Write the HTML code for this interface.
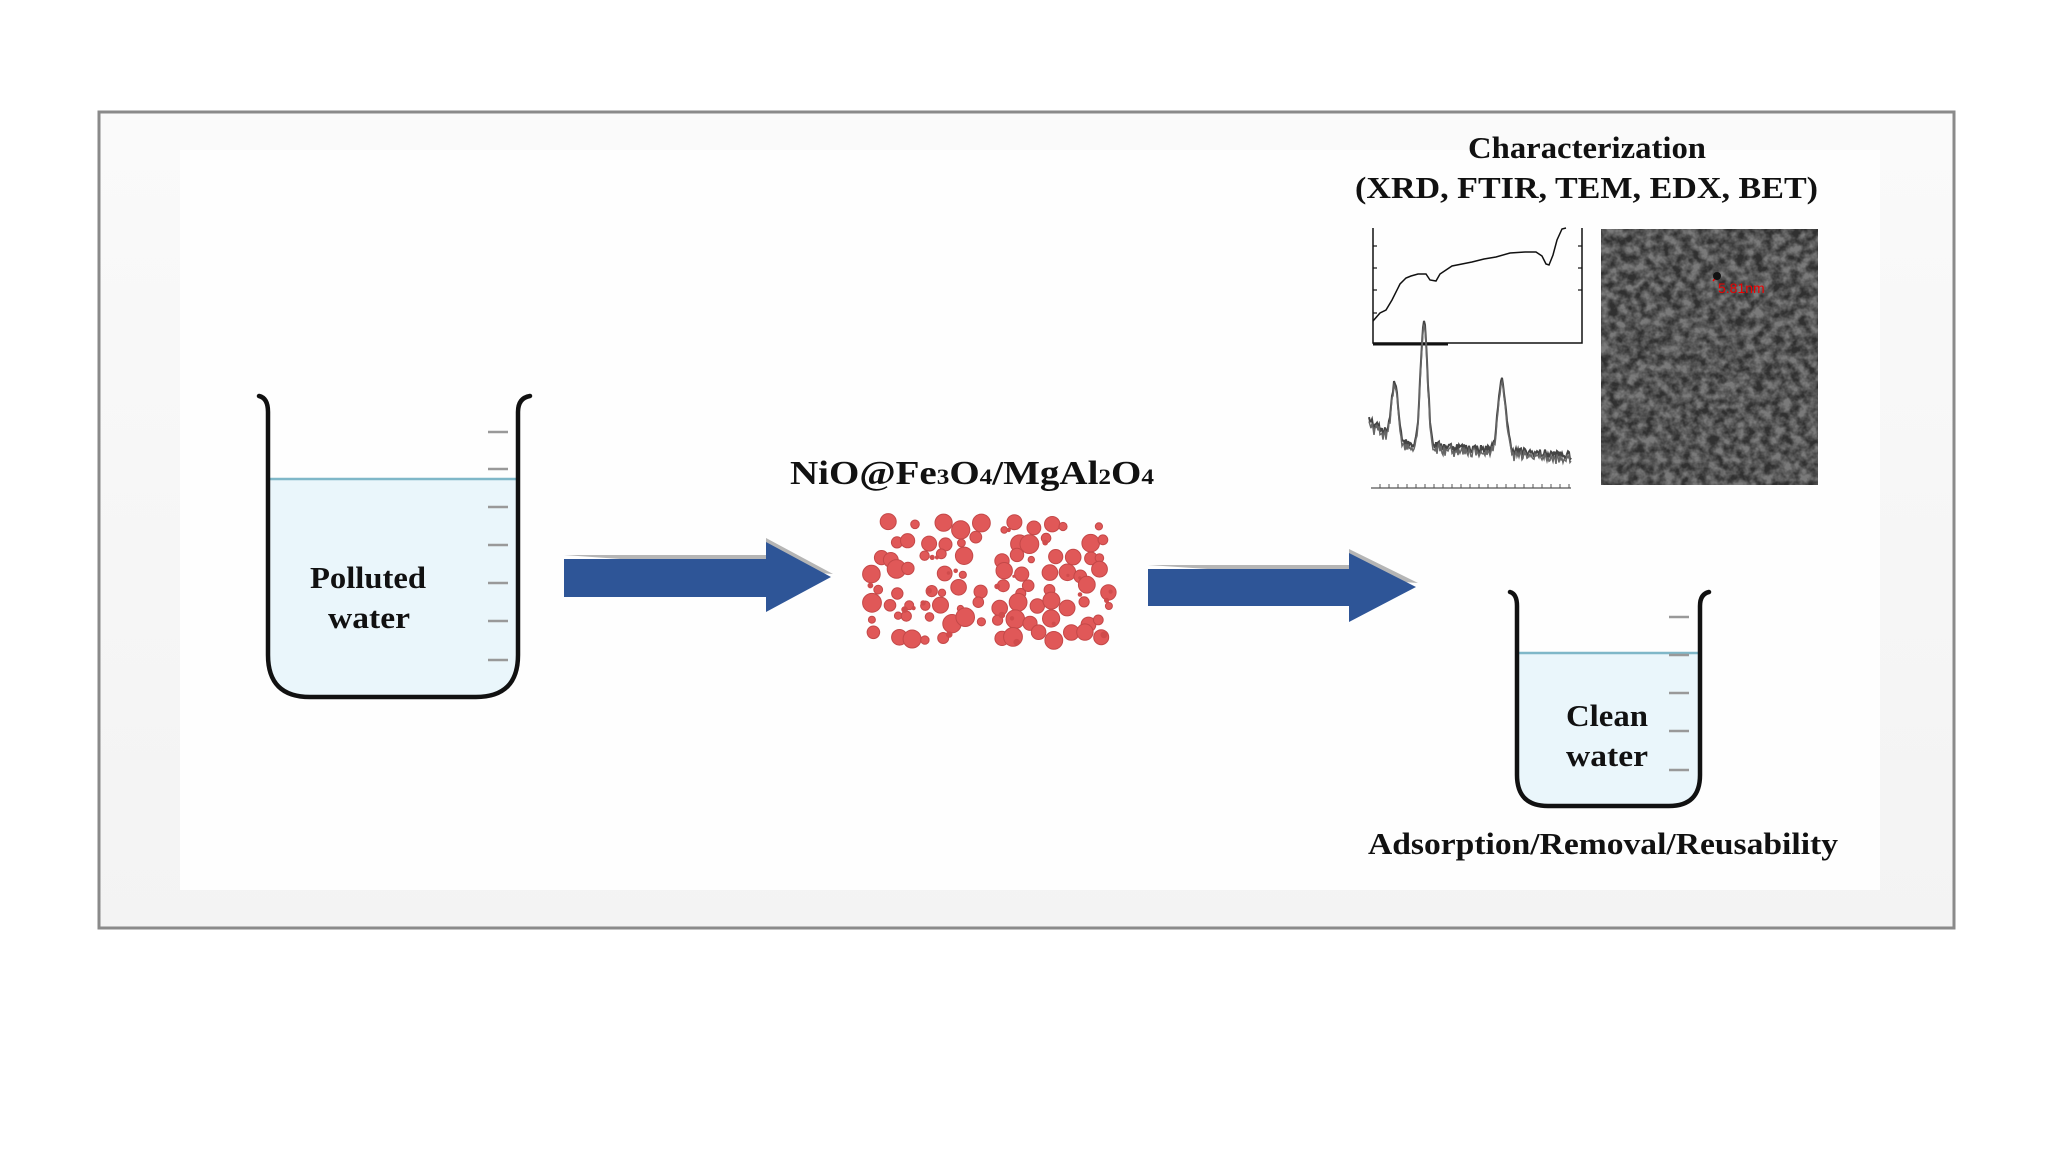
<!DOCTYPE html>
<html><head><meta charset="utf-8"><style>
html,body{margin:0;padding:0;background:#fff;}
body{width:2048px;height:1152px;overflow:hidden;position:relative;font-family:"Liberation Serif",serif;}
svg{position:absolute;left:0;top:0;}
text{font-family:"Liberation Serif",serif;font-weight:bold;fill:#111;}
</style></head><body>
<svg width="2048" height="1152" viewBox="0 0 2048 1152" xmlns="http://www.w3.org/2000/svg">
<defs>
<filter id="tem" x="0" y="0" width="100%" height="100%">
<feTurbulence type="fractalNoise" baseFrequency="0.11" numOctaves="3" seed="7"/>
<feColorMatrix type="matrix" values="0 0 0 0 0  0 0 0 0 0  0 0 0 0 0  2.2 0 0 0 -0.6"/>
<feComposite in2="SourceGraphic" operator="in"/>
</filter>
<linearGradient id="fr" x1="0" y1="0" x2="0" y2="1"><stop offset="0" stop-color="#fafafa"/><stop offset="1" stop-color="#f3f3f3"/></linearGradient>
</defs>
<rect x="99" y="112" width="1855" height="816" fill="url(#fr)" stroke="#8a8a8a" stroke-width="3"/>
<rect x="180" y="150" width="1700" height="740" fill="#fefefe"/>
<!-- left beaker -->
<path d="M268 479 H518 V655 Q518 697 476 697 H310 Q268 697 268 655 Z" fill="#eaf6fb"/>
<line x1="268" y1="479" x2="518" y2="479" stroke="#7fb7c8" stroke-width="2.5"/>
<path d="M259 396 Q268 398 268 412 V655 Q268 697 310 697 H476 Q518 697 518 655 V412 Q518 398 530 396" fill="none" stroke="#111" stroke-width="4.5" stroke-linecap="round"/>
<g stroke="#999" stroke-width="2.5">
<line x1="488" y1="432" x2="508" y2="432"/><line x1="488" y1="469" x2="508" y2="469"/><line x1="488" y1="507" x2="508" y2="507"/><line x1="488" y1="545" x2="508" y2="545"/><line x1="488" y1="583" x2="508" y2="583"/><line x1="488" y1="621" x2="508" y2="621"/><line x1="488" y1="660" x2="508" y2="660"/>
</g>
<text x="310" y="588" font-size="31" textLength="116" lengthAdjust="spacingAndGlyphs">Polluted</text>
<text x="328" y="628" font-size="31" textLength="82" lengthAdjust="spacingAndGlyphs">water</text>
<!-- arrow 1 -->
<polygon points="564,555 766,555 766,538 833,574" fill="#b5b5b5"/>
<polygon points="564,559 766,559 766,542 831,577 766,612 766,597 564,597" fill="#2e5597"/>
<text x="790" y="484" font-size="34" textLength="364" lengthAdjust="spacingAndGlyphs">NiO@Fe<tspan font-size="22">3</tspan>O<tspan font-size="22">4</tspan>/MgAl<tspan font-size="22">2</tspan>O<tspan font-size="22">4</tspan></text>
<g id="parts"></g>
<!-- arrow 2 -->
<polygon points="1148,565 1349,565 1349,549 1418,583" fill="#b5b5b5"/>
<polygon points="1148,569 1349,569 1349,553 1416,587 1349,622 1349,606 1148,606" fill="#2e5597"/>
<text x="1468" y="158" font-size="31" textLength="238" lengthAdjust="spacingAndGlyphs">Characterization</text>
<text x="1355" y="198" font-size="31" textLength="463" lengthAdjust="spacingAndGlyphs">(XRD, FTIR, TEM, EDX, BET)</text>
<!-- FTIR -->
<g stroke="#111" fill="none" stroke-width="1.5">
<polyline points="1373,228 1373,343 1582,343 1582,228"/>
<path d="M1373,321 L1380,313 L1386,310 L1392,300 L1400,284 L1406,278 L1411,276 L1418,274 L1426,274 L1430,280 L1436,281 L1440,274 L1446,270 L1452,266 L1462,264 L1472,262 L1484,259 L1496,257 L1510,253 L1525,252 L1536,252 L1542,256 L1546,264 L1549,265 L1553,255 L1557,240 L1562,229 L1566,228"/>
</g>
<g stroke="#111" stroke-width="1.2">
<line x1="1373" y1="246" x2="1377" y2="246"/><line x1="1373" y1="268" x2="1377" y2="268"/><line x1="1373" y1="290" x2="1377" y2="290"/><line x1="1373" y1="313" x2="1377" y2="313"/>
<line x1="1582" y1="246" x2="1578" y2="246"/><line x1="1582" y1="268" x2="1578" y2="268"/><line x1="1582" y1="290" x2="1578" y2="290"/>
</g>
<line x1="1373" y1="344" x2="1448" y2="344" stroke="#111" stroke-width="3"/>
<g id="xrd"></g>
<!-- TEM -->
<rect x="1601" y="229" width="217" height="256" fill="#7a7a7a"/>
<rect x="1601" y="229" width="217" height="256" fill="#fff" filter="url(#tem)" opacity="0.6"/>
<line x1="1713" y1="281" x2="1719" y2="274" stroke="#e00" stroke-width="1.5"/>
<circle cx="1717" cy="276" r="4" fill="#111"/>
<text x="1718" y="293" font-size="14" style="fill:#e00;font-family:'Liberation Sans',sans-serif;font-weight:normal">5.81nm</text>
<!-- right beaker -->
<path d="M1517 653 H1700 V775 Q1700 806 1669 806 H1548 Q1517 806 1517 775 Z" fill="#eaf6fb"/>
<line x1="1517" y1="653" x2="1700" y2="653" stroke="#7fb7c8" stroke-width="2.5"/>
<path d="M1510 592 Q1517 594 1517 606 V775 Q1517 806 1548 806 H1669 Q1700 806 1700 775 V606 Q1700 594 1709 592" fill="none" stroke="#111" stroke-width="4.5" stroke-linecap="round"/>
<g stroke="#999" stroke-width="2.5">
<line x1="1669" y1="617" x2="1689" y2="617"/><line x1="1669" y1="655" x2="1689" y2="655"/><line x1="1669" y1="693" x2="1689" y2="693"/><line x1="1669" y1="731" x2="1689" y2="731"/><line x1="1669" y1="770" x2="1689" y2="770"/>
</g>
<text x="1566" y="726" font-size="31" textLength="82" lengthAdjust="spacingAndGlyphs">Clean</text>
<text x="1566" y="766" font-size="31" textLength="82" lengthAdjust="spacingAndGlyphs">water</text>
<text x="1368" y="854" font-size="31" textLength="470" lengthAdjust="spacingAndGlyphs">Adsorption/Removal/Reusability</text>
</svg>
<script>
(function(){
var s=12345;function r(){s=(s*16807)%2147483647;return s/2147483647;}
var g=document.getElementById("parts");var h="";
var cols=14,rows=8,dx=244/cols,dy=126/rows;
for(var i=0;i<rows;i++)for(var j=0;j<cols;j++){
var x=868+j*dx+dx/2+(r()-0.5)*dx*0.7,y=518+i*dy+dy/2+(r()-0.5)*dy*0.6;
var rad=3+r()*6.5; if(r()<0.12) continue;
h+='<circle cx="'+x.toFixed(1)+'" cy="'+y.toFixed(1)+'" r="'+rad.toFixed(1)+'" fill="#e05858" stroke="#c44848" stroke-width="1"/>';
if(r()<0.25){h+='<circle cx="'+(x+(r()-0.5)*dx).toFixed(1)+'" cy="'+(y+(r()-0.5)*dy).toFixed(1)+'" r="'+(1.5+r()*2).toFixed(1)+'" fill="#d04c4c"/>';}
}
g.innerHTML=h;
var pts=[];var peaks=[[1395,0.45,3],[1424,1.0,3],[1502,0.55,3.5]];
for(var x=1369;x<=1571;x+=1){var base=0.3+(x<1400?0.15*(1400-x)/30:0)-0.12*(x-1369)/200;
var v=base;for(var k=0;k<3;k++){var p=peaks[k];v+=p[1]*Math.exp(-Math.pow((x-p[0])/(p[2]*1.6),2));}
v+=(r()-0.5)*0.07;pts.push(x+","+(478-v*125).toFixed(1));}
var pl='<polyline points="'+pts.join(" ")+'" fill="none" stroke="#444" stroke-width="2"/>';
var pts2=[];for(var j=0;j<pts.length;j++){var a=pts[j].split(",");pts2.push(a[0]+","+(parseFloat(a[1])+4+(r()-0.5)*5).toFixed(1));}
pl+='<polyline points="'+pts2.join(" ")+'" fill="none" stroke="#666" stroke-width="1.5"/>';
pl+='<line x1="1371" y1="488" x2="1571" y2="488" stroke="#555" stroke-width="1.2"/>';
for(var t=1380;t<1571;t+=9){pl+='<line x1="'+t+'" y1="484" x2="'+t+'" y2="488" stroke="#555" stroke-width="1"/>';}
document.getElementById("xrd").innerHTML=pl;
})();
</script>
</body></html>
